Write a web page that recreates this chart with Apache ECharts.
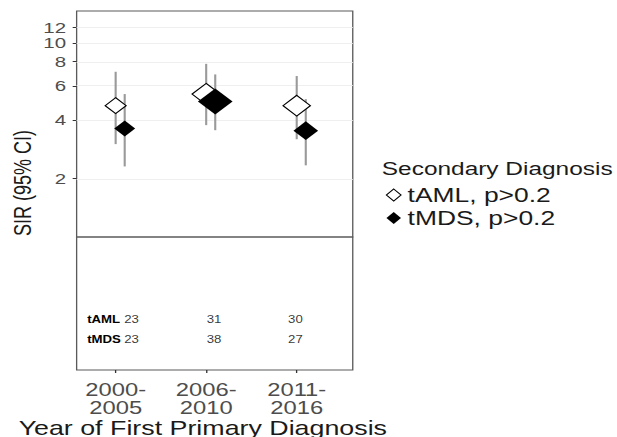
<!DOCTYPE html>
<html>
<head>
<meta charset="utf-8">
<script src="https://cdn.jsdelivr.net/npm/echarts@6/dist/echarts.min.js"></script>
<style>
  html, body { margin: 0; padding: 0; background: #fff; overflow: hidden; }
  /* the original figure is stretched sideways, so draw narrow and widen */
  #chart { width: 467px; height: 437px; transform: scaleX(1.3212); transform-origin: 0 0; }
</style>
</head>
<body>
<div id="chart"></div>
<script>
// data
const periods = ['2000-2005', '2006-2010', '2011-2016'];
const amlSir = [4.75, 5.45, 4.75];
const amlLow = [3.01, 3.77, 3.19];
const amlHigh = [7.1, 7.8, 6.75];
const mdsSir = [3.62, 4.99, 3.53];
const mdsLow = [2.31, 3.55, 2.34];
const mdsHigh = [5.45, 6.88, 5.13];
const amlCount = [23, 31, 30];
const mdsCount = [23, 38, 27];
const sirTicks = [2, 4, 6, 8, 10, 12];
const rowNames = ['tAML', 'tMDS'];

// layout
const FONT = 'Liberation Sans, Arial, sans-serif';
const xMin = 0.569, xMax = 3.619;
const yMaxSir = 14.6;
const dodge = 0.1;
const rowPos = [0.383, 0.233];
const colOffset = [12, 6, -1];
const sizePerCase = 0.69;

const lg = Math.log10;
const xs = periods.map((p, i) => i + 1);

// an empty label near the top keeps echarts from dropping "10" or "12"
// (it hides the end label when it touches its neighbour)
const labelVals = sirTicks.map(lg).concat([lg(14.4)]);

const barData = [];
xs.forEach((x, i) => {
    barData.push([x, lg(amlLow[i]), lg(amlHigh[i])]);
    barData.push([x + dodge, lg(mdsLow[i]), lg(mdsHigh[i])]);
});

const tableData = [];
xs.forEach((x, i) => {
    tableData.push({ value: [x, rowPos[0]], label: { formatter: String(amlCount[i]), offset: [colOffset[i], 0] } });
    tableData.push({ value: [x, rowPos[1]], label: { formatter: String(mdsCount[i]), offset: [colOffset[i], 0] } });
});

const myChart = echarts.init(document.getElementById('chart'), null, { renderer: 'svg' });

const option = {
    animation: false,
    grid: [
        { left: 58, width: 209, top: 11, height: 226, show: true, borderColor: '#5a5a5a', borderWidth: 1, outerBoundsMode: 'none', containLabel: false },
        { left: 58, width: 209, top: 237, height: 133, show: true, borderColor: '#5a5a5a', borderWidth: 1, outerBoundsMode: 'none', containLabel: false },
    ],
    xAxis: [
        { gridIndex: 0, type: 'value', min: xMin, max: xMax, show: false },
        {
            gridIndex: 1, type: 'value', min: xMin, max: xMax,
            axisLine: { show: false },
            splitLine: { show: false },
            axisTick: { show: true, length: 3, lineStyle: { color: '#333' }, customValues: xs },
            axisLabel: {
                customValues: xs,
                margin: 11,
                hideOverlap: false,
                showMinLabel: true,
                showMaxLabel: true,
                fontFamily: FONT, fontSize: 18, lineHeight: 18, color: '#4d4d4d',
                formatter: (v) => periods[Math.round(v) - 1].replace('-', '-\n'),
            },
            name: 'Year of First Primary Diagnosis',
            nameLocation: 'middle',
            nameGap: 41,
            nameTextStyle: { fontFamily: FONT, fontSize: 20.3, color: '#1a1a1a', padding: [0, 18, 0, 0] },
        },
    ],
    yAxis: [
        {
            gridIndex: 0, type: 'value', min: 0, max: lg(yMaxSir),
            axisLine: { show: false },
            splitLine: { show: false },
            axisTick: { show: true, length: 3, lineStyle: { color: '#333' }, customValues: sirTicks.map(lg) },
            axisLabel: {
                customValues: labelVals,
                margin: 8,
                hideOverlap: false,
                fontFamily: FONT, fontSize: 15.5, lineHeight: 14, color: '#4d4d4d',
                formatter: (v) => {
                    const n = Math.round(Math.pow(10, v));
                    return sirTicks.indexOf(n) >= 0 ? String(n) : '';
                },
            },
        },
        {
            gridIndex: 1, type: 'value', min: 0, max: 1,
            axisLine: { show: false },
            axisTick: { show: false },
            splitLine: { show: false },
            axisLabel: {
                inside: true,
                margin: 8,
                customValues: rowPos,
                showMinLabel: true,
                showMaxLabel: true,
                fontFamily: FONT,
                fontSize: 10, fontWeight: 'bold', color: '#000',
                formatter: (v) => rowNames[rowPos.findIndex((r) => Math.abs(r - v) < 1e-6)] || '',
            },
        },
    ],
    title: {
        text: 'Secondary Diagnosis',
        left: 289,
        top: 159,
        padding: 0,
        textStyle: { fontFamily: FONT, fontSize: 18.5, fontWeight: 'normal', color: '#1a1a1a' },
    },
    legend: {
        orient: 'vertical',
        left: 292,
        top: 185,
        padding: 0,
        itemWidth: 11,
        itemHeight: 12,
        itemGap: 3,
        icon: 'diamond',
        itemStyle: { borderWidth: 1 },
        data: ['tAML, p>0.2', 'tMDS, p>0.2'],
        textStyle: { fontFamily: FONT, fontSize: 20, lineHeight: 18, color: '#1a1a1a' },
    },
    graphic: [
        {
            type: 'text',
            x: 17.4,
            y: 183,
            rotation: Math.PI / 2,
            style: {
                text: 'SIR (95% CI)',
                fontFamily: FONT, fontSize: 18, fill: '#1a1a1a',
                align: 'center', verticalAlign: 'middle',
            },
        },
    ],
    series: [
        {
            type: 'custom',
            xAxisIndex: 0,
            yAxisIndex: 0,
            z: 2,
            silent: true,
            data: barData,
            encode: { x: 0, y: [1, 2] },
            renderItem: function (params, api) {
                const lo = api.coord([api.value(0), api.value(1)]);
                const hi = api.coord([api.value(0), api.value(2)]);
                return {
                    type: 'line',
                    shape: { x1: lo[0], y1: lo[1], x2: hi[0], y2: hi[1] },
                    style: { stroke: '#9a9a9a', lineWidth: 1.6 },
                };
            },
            markLine: {
                silent: true,
                z: 1,
                symbol: 'none',
                label: { show: false },
                lineStyle: { color: '#efefef', width: 1, type: 'solid' },
                data: sirTicks.map((v) => ({ yAxis: lg(v) })),
            },
        },
        {
            name: 'tAML, p>0.2',
            type: 'scatter',
            xAxisIndex: 0,
            yAxisIndex: 0,
            z: 3,
            symbol: 'diamond',
            symbolSize: (val) => val[2] * sizePerCase,
            itemStyle: { color: '#fff', borderColor: '#000', borderWidth: 1, opacity: 1 },
            data: xs.map((x, i) => [x, lg(amlSir[i]), amlCount[i]]),
        },
        {
            name: 'tMDS, p>0.2',
            type: 'scatter',
            xAxisIndex: 0,
            yAxisIndex: 0,
            z: 4,
            symbol: 'diamond',
            symbolSize: (val) => val[2] * sizePerCase,
            itemStyle: { color: '#000', opacity: 1 },
            data: xs.map((x, i) => [x + dodge, lg(mdsSir[i]), mdsCount[i]]),
        },
        {
            type: 'scatter',
            xAxisIndex: 1,
            yAxisIndex: 1,
            symbolSize: 0,
            silent: true,
            label: {
                show: true,
                position: 'inside',
                fontFamily: FONT,
                fontSize: 10,
                color: '#000',
            },
            data: tableData,
        },
    ],
};

myChart.setOption(option);
</script>
</body>
</html>
